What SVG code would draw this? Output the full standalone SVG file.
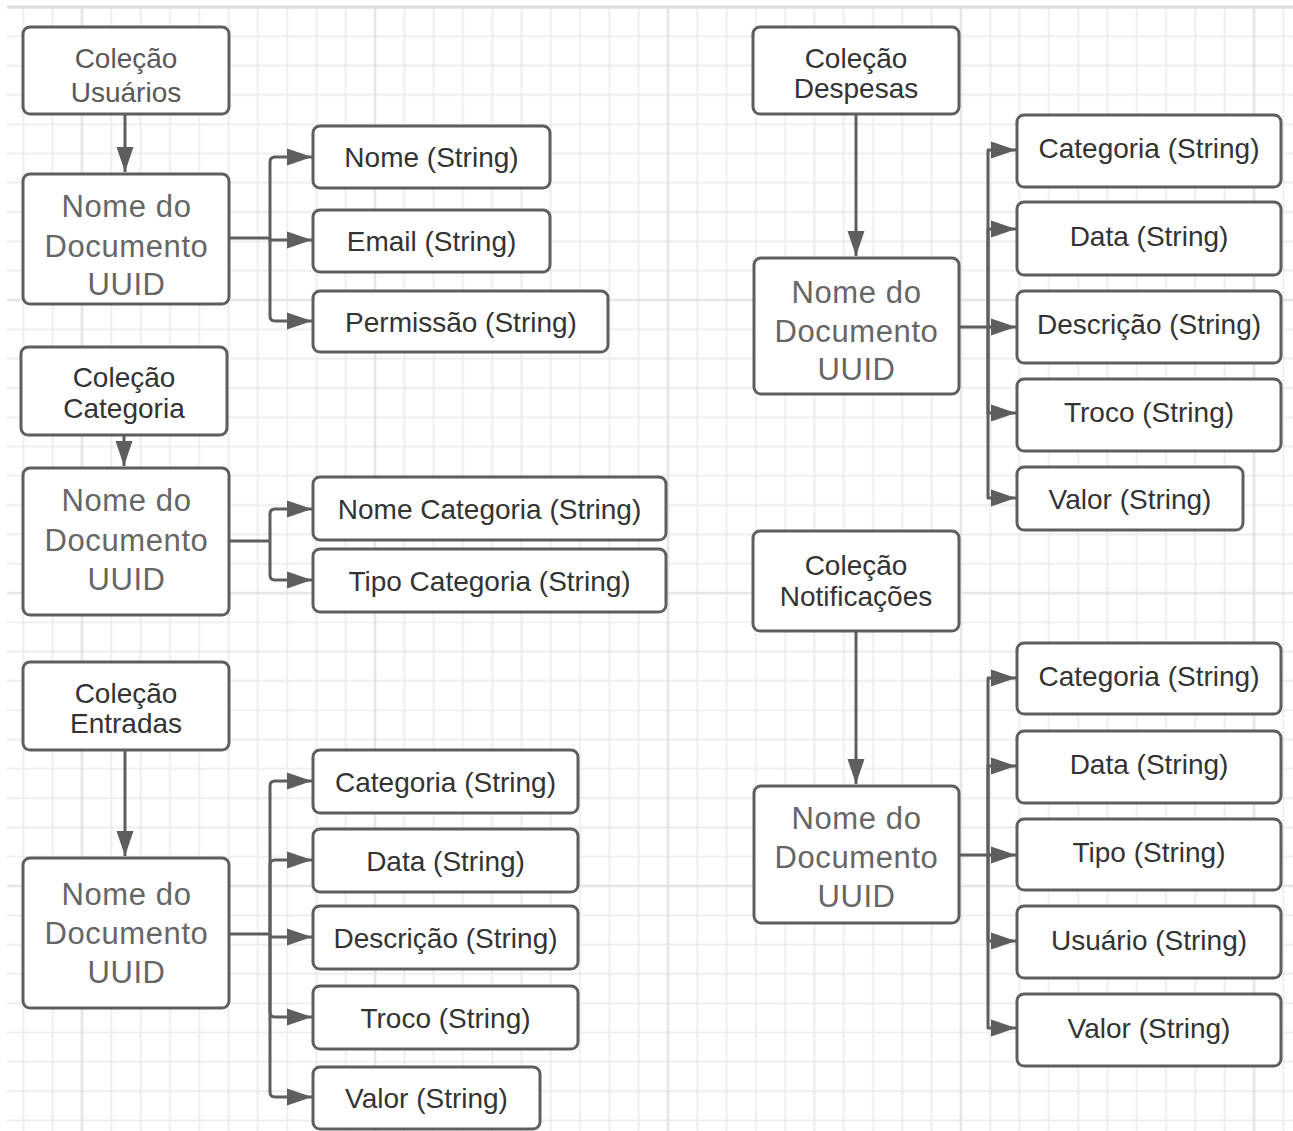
<svg xmlns="http://www.w3.org/2000/svg" width="1293" height="1131" viewBox="0 0 1293 1131">
<style>
.box{fill:#fff;stroke:#5e5e5e;stroke-width:3}
.t{font-family:"Liberation Sans",Arial,sans-serif;font-size:28px;fill:#333;text-anchor:middle}
.tu{fill:#595959}
.d{font-family:"Liberation Sans",Arial,sans-serif;font-size:31px;letter-spacing:0.6px;fill:#666;text-anchor:middle}
.c{fill:none;stroke:#5e5e5e;stroke-width:3;stroke-linejoin:round}
.minor{stroke:#eaeaea;stroke-width:1.6;fill:none}
.major{stroke:#dedede;stroke-width:2;fill:none}
</style>
<defs>
<pattern id="grid" patternUnits="userSpaceOnUse" x="-64.5" y="-139.5" width="293" height="293">
<path class="minor" d="M0,0V293M29.3,0V293M58.6,0V293M87.9,0V293M117.2,0V293M175.8,0V293M205.1,0V293M234.4,0V293M263.7,0V293M293,0V293M0,0H293M0,29.3H293M0,58.6H293M0,87.9H293M0,117.2H293M0,175.8H293M0,205.1H293M0,234.4H293M0,263.7H293M0,293H293"/>
<path class="major" d="M146.5,0V293M0,146.5H293"/>
</pattern>
<marker id="ah" markerUnits="userSpaceOnUse" markerWidth="26" markerHeight="18" refX="25" refY="9" orient="auto">
<path d="M0,0.5L25,9L0,17.5z" fill="#5e5e5e"/>
</marker>
</defs>
<rect width="1293" height="1131" fill="#fff"/>
<rect x="7" y="7" width="1286" height="1124" fill="url(#grid)"/>
<line x1="7" y1="7" x2="1293" y2="7" stroke="#dcdcdc" stroke-width="3"/>

<g id="connectors">
<path class="c" d="M125,114V172" marker-end="url(#ah)"/>
<path class="c" d="M229,238H270"/>
<path class="c" d="M270,238V162Q270,157 275,157H312" marker-end="url(#ah)"/>
<path class="c" d="M270,238V240H312" marker-end="url(#ah)"/>
<path class="c" d="M270,238V316Q270,321 275,321H312" marker-end="url(#ah)"/>
<path class="c" d="M124,435V466" marker-end="url(#ah)"/>
<path class="c" d="M229,541H270"/>
<path class="c" d="M270,541V514Q270,509 275,509H312" marker-end="url(#ah)"/>
<path class="c" d="M270,541V575Q270,580 275,580H312" marker-end="url(#ah)"/>
<path class="c" d="M125,750V856" marker-end="url(#ah)"/>
<path class="c" d="M229,934H270"/>
<path class="c" d="M270,934V786Q270,781 275,781H312" marker-end="url(#ah)"/>
<path class="c" d="M270,934V865Q270,860 275,860H312" marker-end="url(#ah)"/>
<path class="c" d="M270,934V937H312" marker-end="url(#ah)"/>
<path class="c" d="M270,934V1012Q270,1017 275,1017H312" marker-end="url(#ah)"/>
<path class="c" d="M270,934V1092Q270,1097 275,1097H312" marker-end="url(#ah)"/>
<path class="c" d="M856,114V256" marker-end="url(#ah)"/>
<path class="c" d="M959,327H988"/>
<path class="c" d="M988,327V150H1016" marker-end="url(#ah)"/>
<path class="c" d="M988,327V229H1016" marker-end="url(#ah)"/>
<path class="c" d="M988,327H1016" marker-end="url(#ah)"/>
<path class="c" d="M988,327V413H1016" marker-end="url(#ah)"/>
<path class="c" d="M988,327V498H1016" marker-end="url(#ah)"/>
<path class="c" d="M856,631V784" marker-end="url(#ah)"/>
<path class="c" d="M959,855H988"/>
<path class="c" d="M988,855V678H1016" marker-end="url(#ah)"/>
<path class="c" d="M988,855V766H1016" marker-end="url(#ah)"/>
<path class="c" d="M988,855H1016" marker-end="url(#ah)"/>
<path class="c" d="M988,855V941H1016" marker-end="url(#ah)"/>
<path class="c" d="M988,855V1028H1016" marker-end="url(#ah)"/>
</g>

<g id="col-usuarios"><rect class="box" x="23" y="27" width="206" height="87" rx="7"/><text class="t tu" x="126" y="68">Coleção</text><text class="t tu" x="126" y="102">Usuários</text></g>
<g id="doc-usuarios"><rect class="box" x="23" y="174" width="206" height="130" rx="7"/><text class="d" x="126.5" y="217">Nome do</text><text class="d" x="126.5" y="257">Documento</text><text class="d" x="126.5" y="295">UUID</text></g>
<g id="usr-nome"><rect class="box" x="313" y="126" width="237" height="62" rx="7"/><text class="t" x="431.5" y="167">Nome (String)</text></g>
<g id="usr-email"><rect class="box" x="313" y="210" width="237" height="62" rx="7"/><text class="t" x="431.5" y="251">Email (String)</text></g>
<g id="usr-permissao"><rect class="box" x="313" y="291" width="295" height="61" rx="7"/><text class="t" x="461" y="332">Permissão (String)</text></g>

<g id="col-categoria"><rect class="box" x="21" y="347" width="206" height="88" rx="7"/><text class="t" x="124" y="387">Coleção</text><text class="t" x="124" y="418">Categoria</text></g>
<g id="doc-categoria"><rect class="box" x="23" y="468" width="206" height="147" rx="7"/><text class="d" x="126.5" y="511">Nome do</text><text class="d" x="126.5" y="551">Documento</text><text class="d" x="126.5" y="590">UUID</text></g>
<g id="cat-nome"><rect class="box" x="313" y="477" width="353" height="63" rx="7"/><text class="t" x="489.5" y="518.5">Nome Categoria (String)</text></g>
<g id="cat-tipo"><rect class="box" x="313" y="549" width="353" height="63" rx="7"/><text class="t" x="489.5" y="590.5">Tipo Categoria (String)</text></g>

<g id="col-entradas"><rect class="box" x="23" y="662" width="206" height="88" rx="7"/><text class="t" x="126" y="703">Coleção</text><text class="t" x="126" y="733">Entradas</text></g>
<g id="doc-entradas"><rect class="box" x="23" y="858" width="206" height="150" rx="7"/><text class="d" x="126.5" y="905">Nome do</text><text class="d" x="126.5" y="944">Documento</text><text class="d" x="126.5" y="983">UUID</text></g>
<g id="ent-categoria"><rect class="box" x="313" y="750" width="265" height="63" rx="7"/><text class="t" x="445.5" y="791.5">Categoria (String)</text></g>
<g id="ent-data"><rect class="box" x="313" y="829" width="265" height="63" rx="7"/><text class="t" x="445.5" y="870.5">Data (String)</text></g>
<g id="ent-descricao"><rect class="box" x="313" y="906" width="265" height="63" rx="7"/><text class="t" x="445.5" y="947.5">Descrição (String)</text></g>
<g id="ent-troco"><rect class="box" x="313" y="986" width="265" height="63" rx="7"/><text class="t" x="445.5" y="1027.5">Troco (String)</text></g>
<g id="ent-valor"><rect class="box" x="313" y="1067" width="227" height="62" rx="7"/><text class="t" x="426.5" y="1108">Valor (String)</text></g>

<g id="col-despesas"><rect class="box" x="753" y="27" width="206" height="87" rx="7"/><text class="t" x="856" y="68">Coleção</text><text class="t" x="856" y="98">Despesas</text></g>
<g id="doc-despesas"><rect class="box" x="754" y="258" width="205" height="136" rx="7"/><text class="d" x="856.5" y="303">Nome do</text><text class="d" x="856.5" y="342">Documento</text><text class="d" x="856.5" y="380">UUID</text></g>
<g id="des-categoria"><rect class="box" x="1017" y="115" width="264" height="72" rx="7"/><text class="t" x="1149" y="158">Categoria (String)</text></g>
<g id="des-data"><rect class="box" x="1017" y="202" width="264" height="73" rx="7"/><text class="t" x="1149" y="246">Data (String)</text></g>
<g id="des-descricao"><rect class="box" x="1017" y="291" width="264" height="72" rx="7"/><text class="t" x="1149" y="334">Descrição (String)</text></g>
<g id="des-troco"><rect class="box" x="1017" y="379" width="264" height="72" rx="7"/><text class="t" x="1149" y="422">Troco (String)</text></g>
<g id="des-valor"><rect class="box" x="1017" y="467" width="226" height="63" rx="7"/><text class="t" x="1130" y="508.5">Valor (String)</text></g>

<g id="col-notificacoes"><rect class="box" x="753" y="531" width="206" height="100" rx="7"/><text class="t" x="856" y="575">Coleção</text><text class="t" x="856" y="606">Notificações</text></g>
<g id="doc-notificacoes"><rect class="box" x="754" y="786" width="205" height="137" rx="7"/><text class="d" x="856.5" y="829">Nome do</text><text class="d" x="856.5" y="868">Documento</text><text class="d" x="856.5" y="907">UUID</text></g>
<g id="not-categoria"><rect class="box" x="1017" y="643" width="264" height="71" rx="7"/><text class="t" x="1149" y="686">Categoria (String)</text></g>
<g id="not-data"><rect class="box" x="1017" y="731" width="264" height="72" rx="7"/><text class="t" x="1149" y="774">Data (String)</text></g>
<g id="not-tipo"><rect class="box" x="1017" y="819" width="264" height="71" rx="7"/><text class="t" x="1149" y="862">Tipo (String)</text></g>
<g id="not-usuario"><rect class="box" x="1017" y="906" width="264" height="72" rx="7"/><text class="t" x="1149" y="950">Usuário (String)</text></g>
<g id="not-valor"><rect class="box" x="1017" y="994" width="264" height="72" rx="7"/><text class="t" x="1149" y="1038">Valor (String)</text></g>
</svg>
